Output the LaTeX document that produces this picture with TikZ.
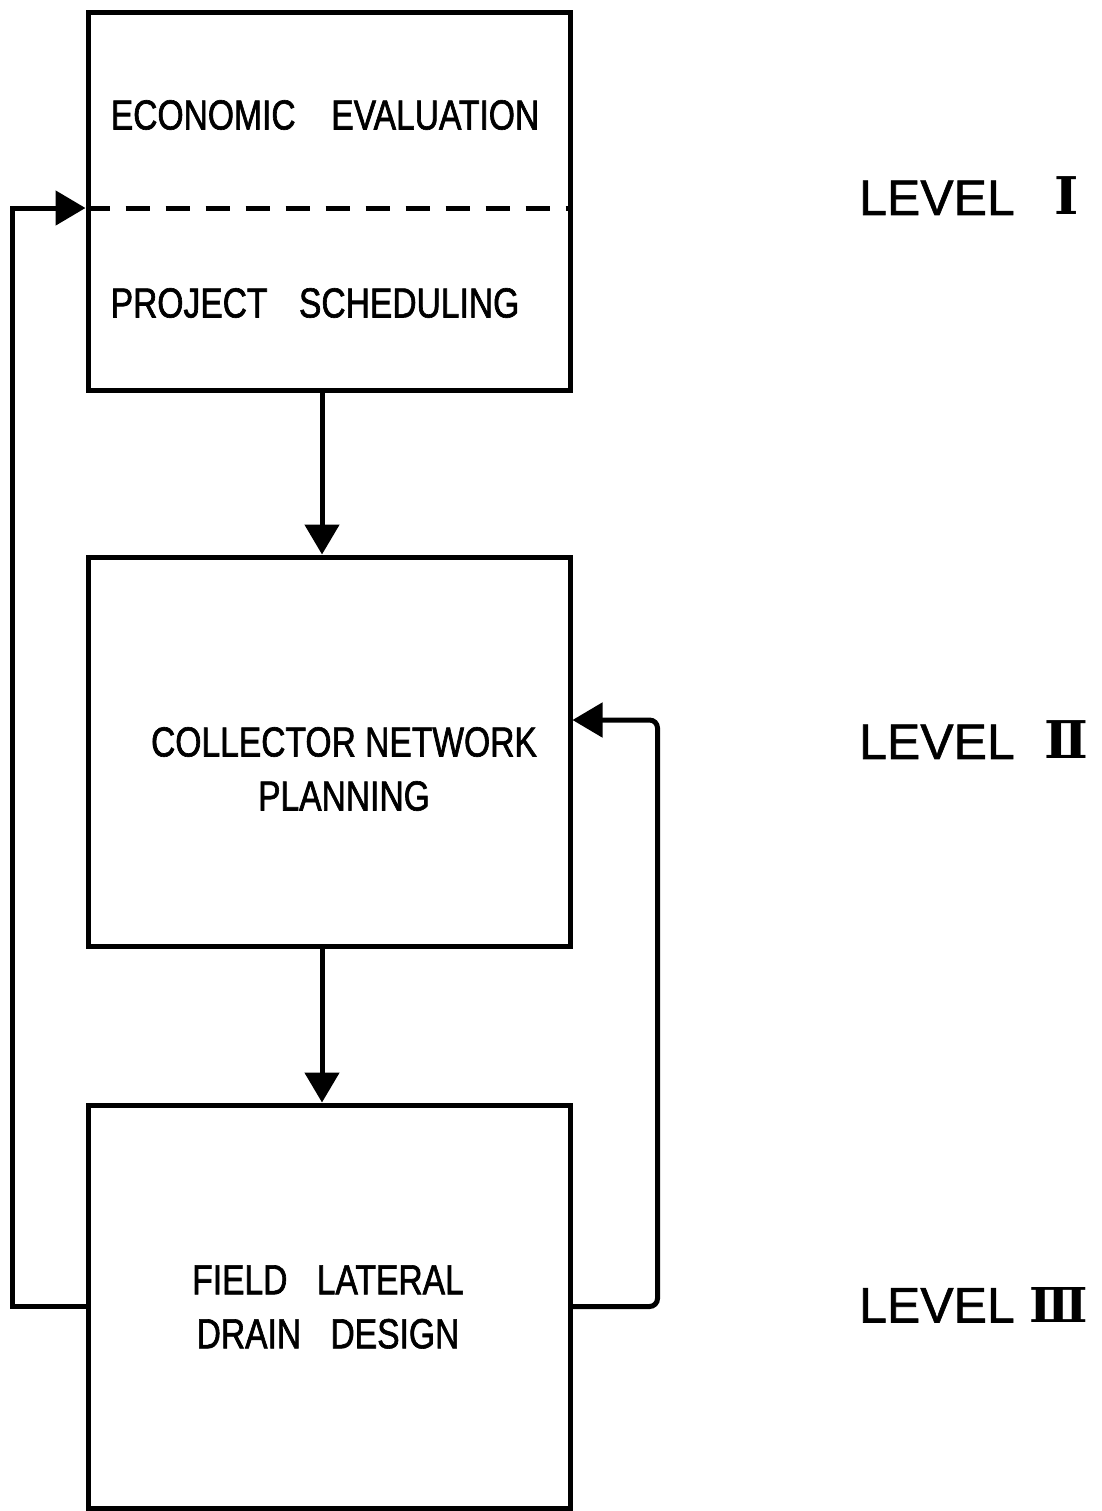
\documentclass[tikz,border=0pt]{standalone}
\usepackage{fontspec}
\setmainfont[FakeBold=1.2]{Liberation Sans}
\newfontfamily\boxfont[FakeStretch=0.8,FakeBold=1.5]{Liberation Sans}
\newfontfamily\numfont{DejaVu Serif}
\usetikzlibrary{arrows.meta}
\begin{document}
\begin{tikzpicture}[x=0.5pt,y=-0.5pt,line width=2.5pt,
        blk/.style={draw,inner sep=0pt,minimum width=241pt},
        lbl/.style={font=\boxfont\fontsize{21}{27}\selectfont,align=center},
        lvl/.style={font=\fontsize{25}{30}\selectfont,anchor=west},
        flow/.style={-{Triangle[length=15pt,width=17pt]}}]
        \useasboundingbox (0,0) rectangle (1102,1511);
        %boxes
        \node[blk,minimum height=189pt] (plan) at (329,201) {};
        \node[blk,minimum height=194.5pt] (coll) at (329,751.5) {};
        \node[blk,minimum height=201.5pt] (field) at (329,1306.5) {};
        \coordinate (split) at (plan.west |- 0,208);
        \draw[dash pattern=on 12pt off 8pt] (split) -- (plan.east |- split);
        %texts
        \node[lbl] (econ) at (325,115) {ECONOMIC\hspace{0.85em}EVALUATION};
        \node[lbl] (sched) at (315,303) {PROJECT\hspace{0.75em}SCHEDULING};
        \node[lbl] (colltxt) at (344,769) {COLLECTOR NETWORK\\PLANNING};
        \node[lbl] (fieldtxt) at (328,1307) {FIELD\hspace{0.7em}LATERAL\\DRAIN\hspace{0.7em}DESIGN};
        %levels
        \node[lvl] (lev1) at (850,196) {LEVEL\hspace{0.8em}{\numfont\bfseries\fontsize{26}{30}\selectfont Ⅰ}};
        \node[lvl] (lev2) at (850,740) {LEVEL\hspace{0.6em}{\numfont\bfseries\fontsize{26}{30}\selectfont Ⅱ}};
        \node[lvl] (lev3) at (850,1305) {LEVEL\hspace{0.3em}{\numfont\bfseries\fontsize{24}{30}\selectfont Ⅲ}};
        %arrows
        \draw[flow] ([xshift=-3.5pt]plan.south) -- ([xshift=-3.5pt]coll.north);
        \draw[flow] ([xshift=-3.5pt]coll.south) -- ([xshift=-3.5pt]field.north);
        %feedback
        \draw[flow] (field.west) -- ++(-73,0) |- (split);
        \coordinate (back) at (coll.east |- 0,720);
        \draw[flow,rounded corners=4pt] (field.east) -- ++(85,0) |- (back);
\end{tikzpicture}
\end{document}
